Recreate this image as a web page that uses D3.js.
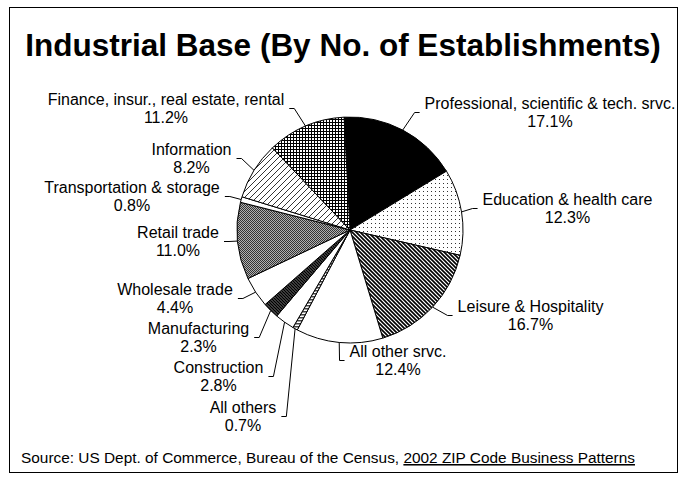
<!DOCTYPE html>
<meta charset="utf-8">

<!-- Load d3.js -->
<script src="https://d3js.org/d3.v7.min.js"></script>

<style>
  body { margin: 0; background: #fff; }
  text { font-family: "Liberation Sans", Arial, sans-serif; fill: #000; }
</style>

<!-- Create a div where the graph will take place -->
<div id="my_dataviz"></div>

<script>

// the data (percent of establishments)
var categories = [
  "Professional, scientific & tech. srvc.",
  "Education & health care",
  "Leisure & Hospitality",
  "All other srvc.",
  "All others",
  "Construction",
  "Manufacturing",
  "Wholesale trade",
  "Retail trade",
  "Transportation & storage",
  "Information",
  "Finance, insur., real estate, rental"
];
var shares = [17.1, 12.3, 16.7, 12.4, 0.7, 2.8, 2.3, 4.4, 11.0, 0.8, 8.2, 11.2];
var fills = ["black", "url(#dots)", "url(#leisure)", "white", "url(#horiz)", "white",
             "url(#manu)", "white", "url(#check)", "white", "url(#info)", "url(#grid)"];

// where each label sits: text centre x, first baseline y, side of the pie
var labelPos = [
  [550, 109, "R"], [567.5, 205, "R"], [530.5, 312, "R"], [398, 357, "R"],
  [243, 413, "L"], [218.5, 373, "L"], [198.5, 334, "L"], [175, 295, "L"],
  [178, 238, "L"], [132, 193, "L"], [191.5, 155, "L"], [166, 105, "L"]
];

var width = 686, height = 480,
    cx = 350, cy = 230, radius = 113;

var svg = d3.select("#my_dataviz")
  .append("svg")
    .attr("width", width)
    .attr("height", height);

// fill patterns that stand in for the black & white hatching
var defs = svg.append("defs");
function pattern(id, w, h, bg) {
  var p = defs.append("pattern")
    .attr("id", id)
    .attr("patternUnits", "userSpaceOnUse")
    .attr("width", w).attr("height", h);
  p.append("rect").attr("width", w).attr("height", h).attr("fill", bg || "white");
  return p;
}
pattern("dots", 4, 4).append("rect")
  .attr("x", 1).attr("y", 1).attr("width", 1).attr("height", 1).attr("fill", "#333");
pattern("leisure", 4, 4).append("path")
  .attr("d", "M-1,-1L5,5M-1,3L1,5M3,-1L5,1")
  .attr("stroke", "black").attr("stroke-width", 1.6);
pattern("info", 6, 6).append("path")
  .attr("d", "M0,6L6,0M-1,1L1,-1M5,7L7,5")
  .attr("stroke", "black").attr("stroke-width", 0.8);
pattern("grid", 3, 3).append("path")
  .attr("d", "M0,0.5H3M0.5,0V3")
  .attr("stroke", "black").attr("stroke-width", 1);
var chk = pattern("check", 2, 2, "#b0b0b0");
chk.append("rect").attr("width", 1).attr("height", 1).attr("fill", "#333");
chk.append("rect").attr("x", 1).attr("y", 1).attr("width", 1).attr("height", 1).attr("fill", "#333");
pattern("horiz", 3, 3).append("rect")
  .attr("width", 3).attr("height", 1.5).attr("fill", "#444");
pattern("manu", 3, 3).append("path")
  .attr("d", "M-1,-1L4,4M-1,2L1,4M2,-1L4,1")
  .attr("stroke", "black").attr("stroke-width", 1.8);

// frame
svg.append("rect")
  .attr("x", 9.5).attr("y", 7.5)
  .attr("width", 668).attr("height", 465)
  .attr("fill", "none")
  .attr("stroke", "black")
  .attr("stroke-width", 1);

// title
svg.append("text")
  .attr("x", width / 2)
  .attr("y", 56)
  .attr("text-anchor", "middle")
  .style("font-size", "31.5px")
  .style("font-weight", "bold")
  .text("Industrial Base (By No. of Establishments)");

// source line, the publication is underlined
var src = svg.append("text")
  .attr("x", 21)
  .attr("y", 463)
  .style("font-size", "15.4px");
src.append("tspan").text("Source: US Dept. of Commerce, Bureau of the Census, ");
src.append("tspan").style("text-decoration", "underline").text("2002 ZIP Code Business Patterns");

// pie, starts a little left of 12 o'clock and runs clockwise
var start = -3 * Math.PI / 180;
var pie = d3.pie()
  .sort(null)
  .startAngle(start)
  .endAngle(start + 2 * Math.PI)
  .value(function(d) { return d; });
var arcs = pie(shares);

var arc = d3.arc().innerRadius(0).outerRadius(radius);
var edge = d3.arc().innerRadius(radius).outerRadius(radius);

var g = svg.append("g")
  .attr("transform", "translate(" + cx + "," + cy + ")");

g.selectAll("path.slice")
  .data(arcs)
  .enter()
  .append("path")
    .attr("class", "slice")
    .attr("d", arc)
    .attr("fill", function(d, i) { return fills[i]; })
    .attr("stroke", "black")
    .attr("stroke-width", 1);

// labels with leader lines
arcs.forEach(function(d, i) {
  var lp = labelPos[i];
  var t = svg.append("text")
    .attr("text-anchor", "middle")
    .style("font-size", "16px");
  t.append("tspan").attr("x", lp[0]).attr("y", lp[1]).text(categories[i]);
  t.append("tspan").attr("x", lp[0]).attr("y", lp[1] + 18).text(d3.format(".1f")(shares[i]) + "%");

  var bb = t.node().getBBox();
  var ly = bb.y + bb.height / 2;
  var ax = lp[2] == "R" ? bb.x - 5 : bb.x + bb.width + 5;
  var ex = lp[2] == "R" ? ax - 5 : ax + 5;
  var p = edge.centroid(d);

  svg.append("path")
    .attr("fill", "none")
    .attr("stroke", "black")
    .attr("stroke-width", 1)
    .attr("d", d3.line()([[cx + p[0], cy + p[1]], [ex, ly], [ax, ly]]));
});

</script>
